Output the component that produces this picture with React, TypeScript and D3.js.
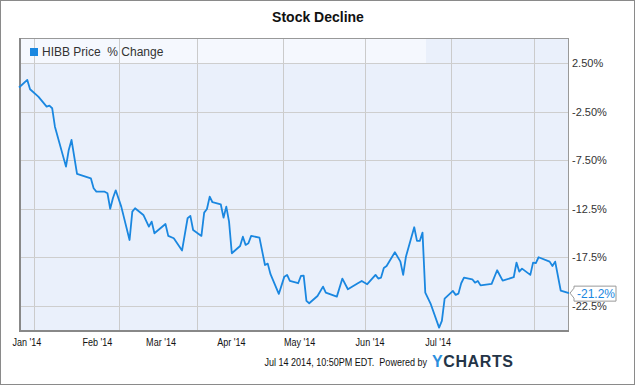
import React from "react";
import * as d3 from "d3";

// HIBB % change
const dates = [
  "2013-12-27", "2013-12-30", "2013-12-31", "2014-01-03", "2014-01-06", "2014-01-07",
  "2014-01-08", "2014-01-09", "2014-01-13", "2014-01-14", "2014-01-15", "2014-01-17",
  "2014-01-22", "2014-01-23", "2014-01-24", "2014-01-27", "2014-01-28", "2014-01-29",
  "2014-01-30", "2014-01-31", "2014-02-02", "2014-02-05", "2014-02-06", "2014-02-07",
  "2014-02-10", "2014-02-12", "2014-02-13", "2014-02-14", "2014-02-18", "2014-02-19",
  "2014-02-21", "2014-02-24", "2014-02-26", "2014-02-27", "2014-02-28", "2014-03-03",
  "2014-03-04", "2014-03-05", "2014-03-06", "2014-03-07", "2014-03-10", "2014-03-11",
  "2014-03-12", "2014-03-13", "2014-03-14", "2014-03-17", "2014-03-18", "2014-03-19",
  "2014-03-20", "2014-03-21", "2014-03-24", "2014-03-26", "2014-03-27", "2014-03-28",
  "2014-03-31", "2014-04-02", "2014-04-03", "2014-04-04", "2014-04-07", "2014-04-08",
  "2014-04-09", "2014-04-10", "2014-04-11", "2014-04-14", "2014-04-16", "2014-04-17",
  "2014-04-21", "2014-04-23", "2014-04-25", "2014-04-28", "2014-04-30", "2014-05-02",
  "2014-05-05", "2014-05-06", "2014-05-07", "2014-05-08", "2014-05-09", "2014-05-12",
  "2014-05-14", "2014-05-15", "2014-05-16", "2014-05-19", "2014-05-20", "2014-05-21",
  "2014-05-22", "2014-05-23", "2014-05-25", "2014-05-28", "2014-05-29", "2014-05-30",
  "2014-06-02", "2014-06-03", "2014-06-04", "2014-06-05", "2014-06-06", "2014-06-09",
  "2014-06-10", "2014-06-11", "2014-06-12", "2014-06-16", "2014-06-18", "2014-06-20",
  "2014-06-24", "2014-06-25", "2014-06-26", "2014-06-27", "2014-06-30", "2014-07-01",
  "2014-07-02", "2014-07-03", "2014-07-07", "2014-07-08", "2014-07-09", "2014-07-11",
  "2014-07-14",
];

const changes = [
  0, 0.78, -0.18, -0.94, -1.97, -1.87,
  -2.14, -4.04, -8.16, -6.44, -5.41, -8.91,
  -9.36, -10.39, -10.74, -10.74, -10.9, -12.5,
  -11.4, -10.6, -12.28, -15.72, -12.8, -12.45,
  -13.14, -14.35, -13.83, -15.03, -14.07, -15.3,
  -15.54, -16.8, -13.48, -13.24, -14.69, -15.3,
  -12.9, -12.52, -11.25, -11.83, -12.04, -13.42,
  -12.28, -13.83, -17.09, -16.34, -15.38, -16.23,
  -16.06, -15.3, -15.48, -18.3, -18.16, -19.25,
  -21.28, -19.5, -19.32, -19.94, -20.18, -19.43,
  -19.4, -22.0, -22.24, -21.49, -20.53, -21.15,
  -21.56, -19.7, -20.8, -20.28, -19.94, -20.28,
  -19.32, -19.7, -19.6, -18.6, -18.4, -16.98,
  -17.95, -19.32, -17.44, -14.41, -15.82, -15.82,
  -14.96, -21.15, -22.34, -24.75, -24.06, -21.76,
  -20.97, -21.38, -21.25, -20.18, -19.6, -19.77,
  -20.12, -19.95, -20.4, -20.24, -18.84, -19.91,
  -19.56, -18.05, -18.98, -18.67, -19.32, -18.05,
  -18.1, -17.5, -17.95, -18.4, -17.95, -20.93,
  -21.2,
];

const yTicks = [2.5, -2.5, -7.5, -12.5, -17.5, -22.5];
const yTickLabels = ["2.50%", "-2.50%", "-7.50%", "-12.5%", "-17.5%", "-22.5%"];
const monthTicks = ["2014-01-01", "2014-02-01", "2014-03-01", "2014-04-01", "2014-05-01", "2014-06-01", "2014-07-01"];
const monthLabels = ["Jan '14", "Feb '14", "Mar '14", "Apr '14", "May '14", "Jun '14", "Jul '14"];

const W = 635;
const H = 385;
const left = 19;
const right = 569;
const top = 38;
const bottom = 330;
const squeeze = 0.822; // x labels and footer are horizontally squashed in the original

const parse = d3.timeParse("%Y-%m-%d");
const font = "Arial, 'Liberation Sans', sans-serif";

export default function App() {
  const data = dates.map((d, i) => ({ date: parse(d) as Date, value: changes[i] }));

  const x = d3
    .scaleTime()
    .domain([parse("2013-12-27") as Date, parse("2014-07-14") as Date])
    .range([left, right]);

  const y = d3.scaleLinear().domain([-25, 5.1]).range([bottom, top]);

  const line: any = d3
    .line<{ date: Date; value: number }>()
    .x((d) => x(d.date))
    .y((d) => y(d.value))
    .curve(d3.curveLinear);

  const last = data[data.length - 1];
  const lx = x(last.date);
  const ly = y(last.value);

  return (
    <svg
      width={W}
      height={H}
      style={{ position: "absolute", left: 0, top: 0, background: "#fff" }}
      fontFamily={font}
    >
      <rect x={0.5} y={0.5} width={W - 1} height={H - 1} fill="#fff" stroke="#8a8a8a" />

      <text x={318} y={22} textAnchor="middle" fontSize={14} fontWeight="bold" fill="#111">
        Stock Decline
      </text>

      {/* plot area */}
      <rect x={left} y={top} width={right - left} height={bottom - top} fill="#eaf0fb" />
      <rect x={left} y={top} width={426 - left} height={y(2.5) - top} fill="#f5f8fe" />

      {/* grid drawn as 1px rects so they land on whole pixels */}
      {monthTicks.map((m) => (
        <rect
          key={m}
          x={Math.round(x(parse(m) as Date)) + 1}
          y={top}
          width={1}
          height={bottom - top}
          fill="#cbcbcb"
        />
      ))}
      {yTicks.map((t) => (
        <rect key={t} x={left} y={Math.round(y(t))} width={right - left} height={1} fill="#cecece" />
      ))}
      <rect x={left} y={top} width={right - left} height={1} fill="#999" />
      <rect x={right - 1} y={top} width={1} height={bottom - top} fill="#999" />
      <rect x={left} y={top} width={2} height={bottom - top + 1} fill="#888" />
      <rect x={left} y={bottom} width={right - left} height={2} fill="#888" />

      {/* legend */}
      <rect x={30} y={48} width={8} height={8} fill="#1a87e0" />
      <text x={42} y={56} fontSize={12} fill="#333" style={{ whiteSpace: "pre" }}>
        HIBB Price  % Change
      </text>

      <path d={line(data)} fill="none" stroke="#1a87e0" strokeWidth={1.8} strokeLinejoin="round" />

      {/* right axis */}
      {yTicks.map((t, i) => (
        <text key={t} x={572} y={y(t) + 4} fontSize={11} fill="#333">
          {yTickLabels[i]}
        </text>
      ))}

      {/* last value flag */}
      <path
        d={`M${lx + 1},${ly} L${lx + 5},${ly - 5} L${lx + 5},${ly - 7} L${616},${ly - 7} L${616},${ly + 8} L${lx + 5},${ly + 8} L${lx + 5},${ly + 5} Z`}
        fill="#fff"
        stroke="#999"
      />
      <text x={577} y={ly + 4.5} fontSize={12} fill="#1a87e0">
        {last.value.toFixed(1)}%
      </text>

      {/* month labels */}
      <g transform={`scale(${squeeze},1)`}>
        {monthTicks.map((m, i) => (
          <text
            key={m}
            x={x(parse(m) as Date)}
            y={346}
            textAnchor="middle"
            fontSize={11}
            fill="#111"
          >
            {monthLabels[i]}
          </text>
        ))}
        <text
          x={427 / squeeze}
          y={366}
          textAnchor="end"
          fontSize={11}
          fill="#111"
          style={{ whiteSpace: "pre" }}
        >
          Jul 14 2014, 10:50PM EDT.  Powered by
        </text>
      </g>

      <text x={432} y={367} fontSize={16} fontWeight="bold" letterSpacing={0.6}>
        <tspan fill="#2b8fde">Y</tspan>
        <tspan fill="#243447">CHARTS</tspan>
      </text>
    </svg>
  );
}
